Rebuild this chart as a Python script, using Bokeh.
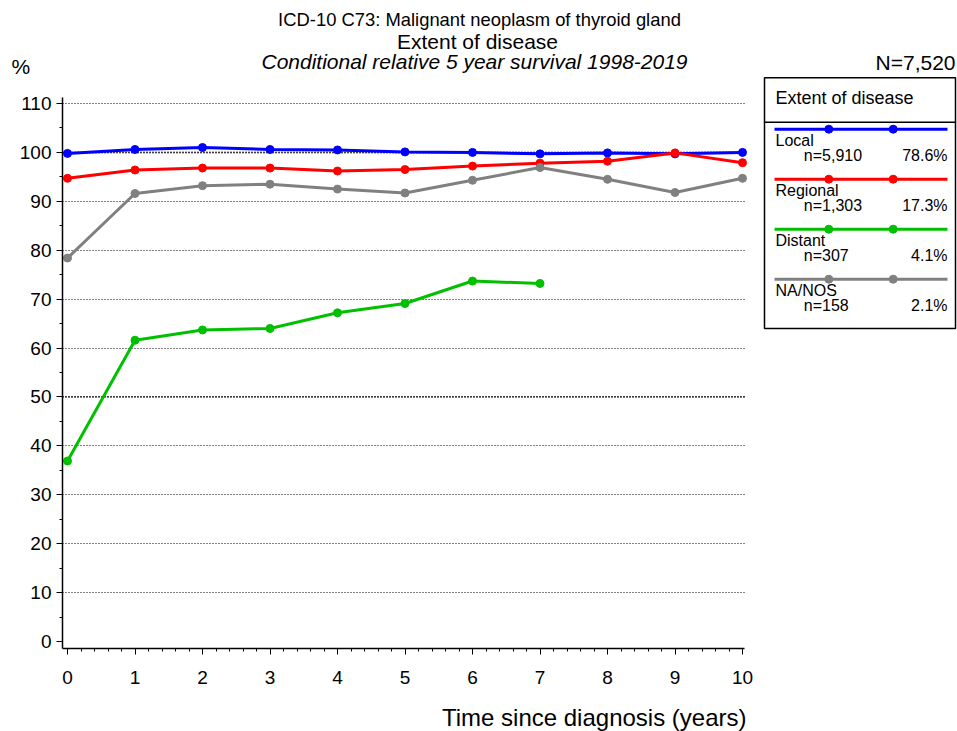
from bokeh.plotting import figure
from bokeh.models import Range1d, FixedTicker, Label, Grid
from bokeh.embed import file_html
from bokeh.resources import INLINE
from bokeh.core.properties import value

# ---- data ----
years = [0, 1, 2, 3, 4, 5, 6, 7, 8, 9, 10]
local = [99.8, 100.6, 101.0, 100.6, 100.5, 100.1, 100.0, 99.7, 99.9, 99.7, 100.0]
regional = [94.7, 96.4, 96.8, 96.8, 96.2, 96.5, 97.2, 97.8, 98.2, 99.9, 97.9]
distant_years = [0, 1, 2, 3, 4, 5, 6, 7]
distant = [36.9, 61.6, 63.7, 64.0, 67.2, 69.1, 73.7, 73.2]
nanos = [78.4, 91.6, 93.2, 93.5, 92.5, 91.7, 94.3, 96.9, 94.5, 91.8, 94.7]

series_names = ["Local", "Regional", "Distant", "NA/NOS"]
series_n = ["n=5,910", "n=1,303", "n=307", "n=158"]
series_pct = ["78.6%", "17.3%", "4.1%", "2.1%"]
series_colors = ["#0000FF", "#FF0000", "#00C000", "#808080"]

x_ticks = [0, 1, 2, 3, 4, 5, 6, 7, 8, 9, 10]
x_minor = [i / 5 for i in range(0, 51)]
y_ticks = [0, 10, 20, 30, 40, 50, 60, 70, 80, 90, 100, 110]
y_minor = [5, 15, 25, 35, 45, 55, 65, 75, 85, 95, 105]
grid_ticks = [10, 20, 30, 40, 50, 60, 70, 80, 90, 100, 110]
ref_lines = [50, 100]

FONT = "Liberation Sans"
W, H = 957, 731
OFF = 0      # the page template has no body margin
BFIX = 7     # text baseline correction (px)

# ---- geometry (page pixels) ----
X0, PXY = 67.0, 67.5       # page x of year 0, px per year
Y0, PXU = 641.0, 4.891     # page y of 0 %, px per percent
def xv(px):
    return (px - X0) / PXY
def yv(py):
    return (Y0 - py) / PXU

p = figure(width=W, height=H, output_backend="svg", toolbar_location=None,
           x_range=Range1d(xv(OFF), xv(OFF + W)),
           y_range=Range1d(yv(OFF + H), yv(OFF)),
           min_border=0)
p.outline_line_color = None
p.extra_x_ranges = {"px": Range1d(OFF, OFF + W)}
p.extra_y_ranges = {"px": Range1d(OFF + H, OFF)}

# axes drawn at fixed positions inside the canvas
xa, ya = p.xaxis[0], p.yaxis[0]
xa.fixed_location = yv(648)
ya.fixed_location = xv(62)
xa.bounds = (xv(62), xv(743.5))
ya.bounds = (yv(648), yv(97))
xa.ticker = FixedTicker(ticks=x_ticks, minor_ticks=x_minor)
ya.ticker = FixedTicker(ticks=y_ticks, minor_ticks=y_minor)
for ax in (xa, ya):
    ax.axis_line_color = "black"
    ax.axis_line_width = 1.5
    ax.major_tick_line_color = "black"
    ax.minor_tick_line_color = "black"
    ax.major_tick_out = 6
    ax.major_tick_in = 0
    ax.minor_tick_out = 3
    ax.minor_tick_in = 0
    ax.major_label_text_font = FONT
    ax.major_label_text_font_size = "19px"
    ax.major_label_text_color = "black"
xa.major_label_standoff = 16
ya.major_label_standoff = 5

# grid
p.xgrid.visible = False
g = p.ygrid[0]
g.ticker = FixedTicker(ticks=grid_ticks)
g.grid_line_color = "black"
g.grid_line_dash = "1 2"
g.grid_line_width = 1
gx0, gx1 = xv(62), xv(746)
if "cross_bounds" in Grid.properties():
    g.cross_bounds = (gx0, gx1)
else:
    g.visible = False
    p.segment(x0=[gx0] * len(grid_ticks), y0=grid_ticks,
              x1=[gx1] * len(grid_ticks), y1=grid_ticks,
              line_color="black", line_dash="1 2", line_width=1)
p.segment(x0=[gx0] * len(ref_lines), y0=ref_lines,
          x1=[gx1] * len(ref_lines), y1=ref_lines,
          line_color="black", line_dash="1 2", line_width=2)

# data series
for ys_, xs_, c in ((local, years, series_colors[0]),
                    (regional, years, series_colors[1]),
                    (distant, distant_years, series_colors[2]),
                    (nanos, years, series_colors[3])):
    p.line(xs_, ys_, line_color=c, line_width=3)
    p.scatter(xs_, ys_, size=8, fill_color=c, line_color=c)

def lab(x, y, text, size, align="left", style="normal"):
    p.add_layout(Label(x=x, y=y - BFIX, x_range_name="px", y_range_name="px",
                       text=text, text_align=align, text_baseline="alphabetic",
                       text_font=FONT, text_font_size=size,
                       text_font_style=style, text_color="black"))

# titles
lab(479, 25.7, "ICD-10 C73: Malignant neoplasm of thyroid gland", "18.4px", "center")
lab(477, 47.7, "Extent of disease", "21px", "center")
lab(474, 68.3, "Conditional relative 5 year survival 1998-2019", "21px", "center", "italic")
lab(11, 73, "%", "21px")
lab(955, 69, "N=7,520", "21px", "right")
lab(746, 724, "Time since diagnosis (years)", "24px", "right")

# legend
bl, br, bt, bb = 764, 955, 77.3, 328
p.quad(left=[bl], right=[br], top=[bt], bottom=[bb], fill_color=None,
       line_color="black", line_width=1.5, x_range_name="px", y_range_name="px")
p.segment(x0=[bl], y0=[121.7], x1=[br], y1=[121.7], line_color="black",
          line_width=1.5, x_range_name="px", y_range_name="px")
lab(775, 104.3, "Extent of disease", "18px")
for i, (nm, n, pc, c) in enumerate(zip(series_names, series_n, series_pct,
                                       series_colors)):
    ly = 128.7 + 50 * i
    p.segment(x0=[774], y0=[ly], x1=[947], y1=[ly], line_color=c, line_width=3,
              x_range_name="px", y_range_name="px")
    p.scatter([828.3, 892.7], [ly, ly], size=8, fill_color=c, line_color=c,
              x_range_name="px", y_range_name="px")
    lab(775, ly + 18.6, nm, "16px")
    lab(803.3, ly + 33.6, n, "16px")
    lab(947, ly + 33.6, pc, "16px", "right")

open("out.html", "w").write(file_html(p, INLINE))
